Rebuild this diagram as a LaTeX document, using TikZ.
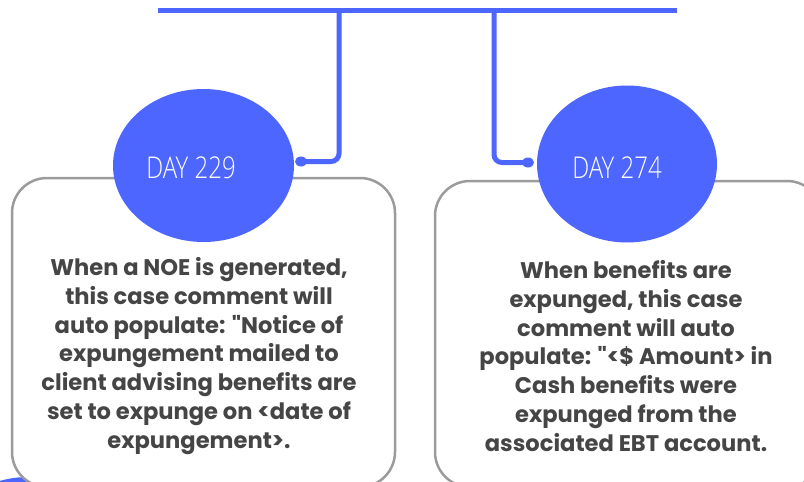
\documentclass[tikz,border=0pt]{standalone}
\usepackage{fontspec}
\usetikzlibrary{shapes.geometric}
\newfontfamily\bodyfont{Poppins}
\newfontfamily\dayfont[FakeStretch=0.8]{Open Sans Light}
\definecolor{tlblue}{RGB}{77,102,255}
\definecolor{boxgray}{RGB}{155,155,155}
\definecolor{txtgray}{RGB}{69,69,69}
\tikzset{
  conn/.style={draw=tlblue, line width=5pt, rounded corners=8pt},
  daybubble/.style={ellipse, fill=tlblue, inner sep=0pt},
  daytext/.style={text=white, font=\dayfont\fontsize{30}{32}\selectfont, inner sep=0pt},
  cardbox/.style={draw=boxgray, fill=white, line width=2.5pt, rounded corners=35pt},
  cardtext/.style={text=txtgray, align=center, inner sep=0pt, font=\bodyfont\bfseries\fontsize{22.6}{28.7}\selectfont},
  knob/.style={ellipse, fill=tlblue, minimum width=12pt, minimum height=10pt, inner sep=0pt}
}
\begin{document}
\begin{tikzpicture}[x=1pt,y=-1pt]
\useasboundingbox (0,0) rectangle (804,482);
% partial bubble at the bottom-left
\node[daybubble, minimum width=180pt, minimum height=156pt] (d0) at (28,555) {};
% cards
\draw[cardbox] (12,178) rectangle (395,487);
\draw[cardbox] (435,181) rectangle (822,487);
% top bar
\coordinate (barL) at (158,10);
\coordinate (barR) at (677,10);
\coordinate (j1) at (339,10);
\coordinate (j2) at (494,10);
\draw[draw=tlblue, line width=5pt] (barL) -- (barR);
% bubbles
\node[daybubble, minimum width=181pt, minimum height=153pt] (d1) at (203.5,165.5) {};
\node[daybubble, minimum width=180pt, minimum height=157pt] (d2) at (627,164) {};
\node[daytext] (t1) at (191,168) {DAY 229};
\node[daytext] (t2) at (617,168) {DAY 274};
% knobs and connectors
\node[knob] (k1) at (301,161.5) {};
\node[knob] (k2) at (528,162.5) {};
\draw[conn] (j1) |- (k1.center);
\draw[conn] (j2) |- (k2.center);
% texts
\node[cardtext] (c1) at (199,356) {When a NOE is generated,\\this case comment will\\auto populate: "Notice of\\expungement mailed to\\client advising benefits are\\set to expunge on <date of\\expungement>.};
\node[cardtext] (c2) at (626,356) {When benefits are\\expunged, this case\\comment will auto\\populate: "<\$ Amount> in\\Cash benefits were\\expunged from the\\associated EBT account.};
\end{tikzpicture}
\end{document}
